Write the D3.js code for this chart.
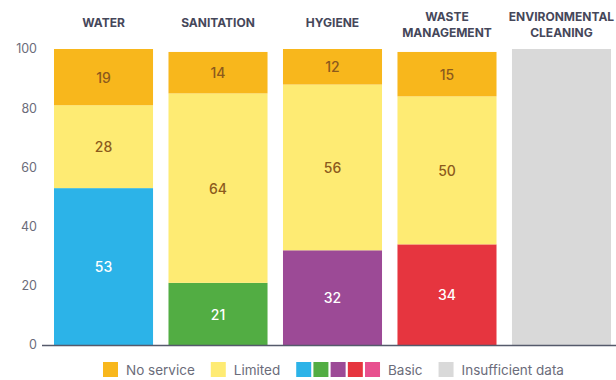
<!DOCTYPE html>
<html>
<head>
<meta charset="utf-8">
<script src="https://cdn.jsdelivr.net/npm/d3@7"></script>
<style>
  html, body { margin: 0; padding: 0; background: #fff; }
  svg { display: block; font-family: Inter, "Noto Sans", sans-serif; }
</style>
</head>
<body>
<svg id="chart" width="616" height="380"></svg>
<script>
// Service levels (% of facilities) per domain
const categories = [
  ["WATER"],
  ["SANITATION"],
  ["HYGIENE"],
  ["WASTE", "MANAGEMENT"],
  ["ENVIRONMENTAL", "CLEANING"]
];
const basic     = [53, 21, 32, 34, null];
const limited   = [28, 64, 56, 50, null];
const noService = [19, 14, 12, 15, null];
const basicColors = ["#2cb3e8", "#52ad43", "#9c4a96", "#e6353f", "#e8508f"];
const yTicks = [0, 20, 40, 60, 80, 100];
const legendItems = [
  { label: "No service", colors: ["#f8b71c"] },
  { label: "Limited", colors: ["#feeb73"] },
  { label: "Basic", colors: basicColors },
  { label: "Insufficient data", colors: ["#d9d9d9"] }
];

const NO_SERVICE = "#f8b71c", LIMITED = "#feeb73", NODATA = "#d9d9d9";

const svg = d3.select("#chart");

const x = d3.scaleBand()
  .domain(d3.range(categories.length))
  .range([54, 611])
  .paddingInner(0.135)
  .paddingOuter(0);

const y = d3.scaleLinear().domain([0, 100]).range([345, 49]);

// y axis tick labels
svg.append("g").selectAll("text")
  .data(yTicks).join("text")
  .attr("x", 37)
  .attr("y", d => y(d))
  .attr("dy", "0.35em")
  .attr("text-anchor", "end")
  .attr("fill", "#6b6c7a")
  .attr("font-size", 12.5)
  .text(d => d);

// stacked bars
const bars = svg.append("g");
categories.forEach((cat, i) => {
  const bx = x(i), bw = x.bandwidth();
  if (basic[i] == null) {
    bars.append("rect")
      .attr("x", bx).attr("width", bw)
      .attr("y", y(100)).attr("height", y(0) - y(100))
      .attr("fill", NODATA);
    return;
  }
  const segs = [
    { v: basic[i], color: basicColors[i], text: "#ffffff" },
    { v: limited[i], color: LIMITED, text: "#8c5a1c" },
    { v: noService[i], color: NO_SERVICE, text: "#8c5a1c" }
  ];
  let acc = 0;
  segs.forEach(s => {
    const y0 = acc, y1 = acc + s.v;
    acc = y1;
    bars.append("rect")
      .attr("x", bx).attr("width", bw)
      .attr("y", y(y1)).attr("height", y(y0) - y(y1))
      .attr("fill", s.color);
    bars.append("text")
      .attr("x", bx + bw / 2)
      .attr("y", (y(y0) + y(y1)) / 2)
      .attr("dy", "0.4em")
      .attr("text-anchor", "middle")
      .attr("fill", s.text)
      .attr("font-size", 14)
      .attr("font-weight", 500)
      .text(s.v);
  });
});

// baseline
svg.append("line")
  .attr("x1", 42).attr("x2", 616)
  .attr("y1", 345.5).attr("y2", 345.5)
  .attr("stroke", "#555a6b").attr("stroke-width", 1.5);

// category headers
const heads = svg.append("g");
categories.forEach((lines, i) => {
  const cx = x(i) + x.bandwidth() / 2;
  const t = heads.append("text")
    .attr("x", cx)
    .attr("text-anchor", "middle")
    .attr("fill", "#45475a")
    .attr("font-size", 12)
    .attr("font-weight", 700);
  const top = lines.length === 1 ? 27 : 21;
  lines.forEach((ln, k) => {
    t.append("tspan").attr("x", cx).attr("y", top + k * 16).text(ln);
  });
});

// legend
const lg = svg.append("g").attr("font-size", 13.5).attr("fill", "#6b6c7a");
let lx = 103;
const sw = 15, ly = 362;
legendItems.forEach(item => {
  item.colors.forEach((c, k) => {
    lg.append("rect")
      .attr("x", lx + k * 17.2).attr("y", ly)
      .attr("width", sw).attr("height", sw)
      .attr("fill", c);
  });
  const tx = lx + (item.colors.length - 1) * 17.2 + sw + 8;
  const txt = lg.append("text")
    .attr("x", tx).attr("y", ly + 12.5)
    .text(item.label);
  lx = tx + txt.node().getComputedTextLength() + 16;
});
</script>
</body>
</html>
